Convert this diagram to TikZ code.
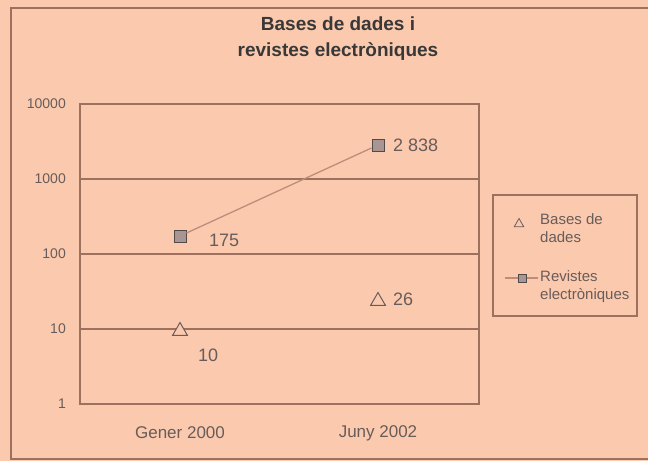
\documentclass[tikz,border=0pt]{standalone}
\usepackage{fontspec}
\setmainfont{Liberation Sans}
\usetikzlibrary{shapes.geometric, calc}
\definecolor{peach}{RGB}{251,202,174}
\definecolor{rule}{RGB}{158,112,94}
\definecolor{serie}{RGB}{190,140,122}
\definecolor{ink}{RGB}{104,92,90}
\definecolor{marker}{RGB}{168,150,148}

\begin{document}
\begin{tikzpicture}[x=1pt,y=-1pt,
  tick/.style={anchor=east,inner sep=0pt,text=ink,font=\fontsize{14}{14}\selectfont},
  cat/.style={inner sep=0pt,text=ink,font=\fontsize{17}{17}\selectfont},
  val/.style={anchor=west,inner sep=0pt,text=ink,font=\fontsize{18}{18}\selectfont},
  sq/.style={draw=ink!80!black,fill=marker,shape=rectangle,inner sep=0pt,minimum size=12pt,line width=1pt},
  tri/.style={draw=ink,fill=peach,shape=regular polygon,regular polygon sides=3,inner sep=0pt,minimum size=17pt,line width=1pt},
  leg/.style={anchor=west,align=left,inner sep=0pt,text=ink,font=\fontsize{15}{18}\selectfont}]
  \useasboundingbox (0,0) rectangle (648,461);
  \fill[peach] (0,0) rectangle (648,461);
  \draw[rule,line width=1.6pt] (11,8) rectangle (660,459);
  \path (338,39) node[align=center,text=black!78,font=\bfseries\fontsize{19}{26}\selectfont] (title) {Bases de dades i\\revistes electròniques};
  % plot area and grid
  \draw[rule,line width=1.3pt] (80,104) rectangle (479,404);
  \foreach \y in {179,254,329} \draw[rule,line width=1.3pt] (80,\y) -- (479,\y);
  \foreach \l/\y in {10000/104,1000/179,100/254,10/329,1/404}
    \path (66,\y) node[tick] (t\l) {\l};
  \path (180,433) node[cat] (c0) {Gener 2000} (378,433) node[cat] (c1) {Juny 2002};
  % series
  \path (180,236) node[sq] (r0) {} (378,145) node[sq] (r1) {};
  \draw[serie,line width=1.3pt] (r0) -- (r1);
  \path (180,331) node[tri] (b0) {} (378,301) node[tri] (b1) {};
  \path (209,240) node[val] (v0) {175} (393,145) node[val] (v1) {2 838}
  (198,355) node[val] (v2) {10} (393,299) node[val] (v3) {26};
  % legend
  \draw[rule,line width=1.3pt] (493,195) rectangle (637,316);
  \path (519,224) node[tri,minimum size=11pt,line width=0.8pt] (lb) {} (540,228) node[leg] (lbt) {Bases de\\dades};
  \path (505,278) coordinate (la) (538,278) coordinate (lc);
  \draw[serie,line width=1.3pt] (la) -- (lc);
  \path (522,278) node[sq,minimum size=8pt,line width=0.8pt] (lr) {} (540,287) node[leg] (lrt) {Revistes\\electròniques};
\end{tikzpicture}
\end{document}
